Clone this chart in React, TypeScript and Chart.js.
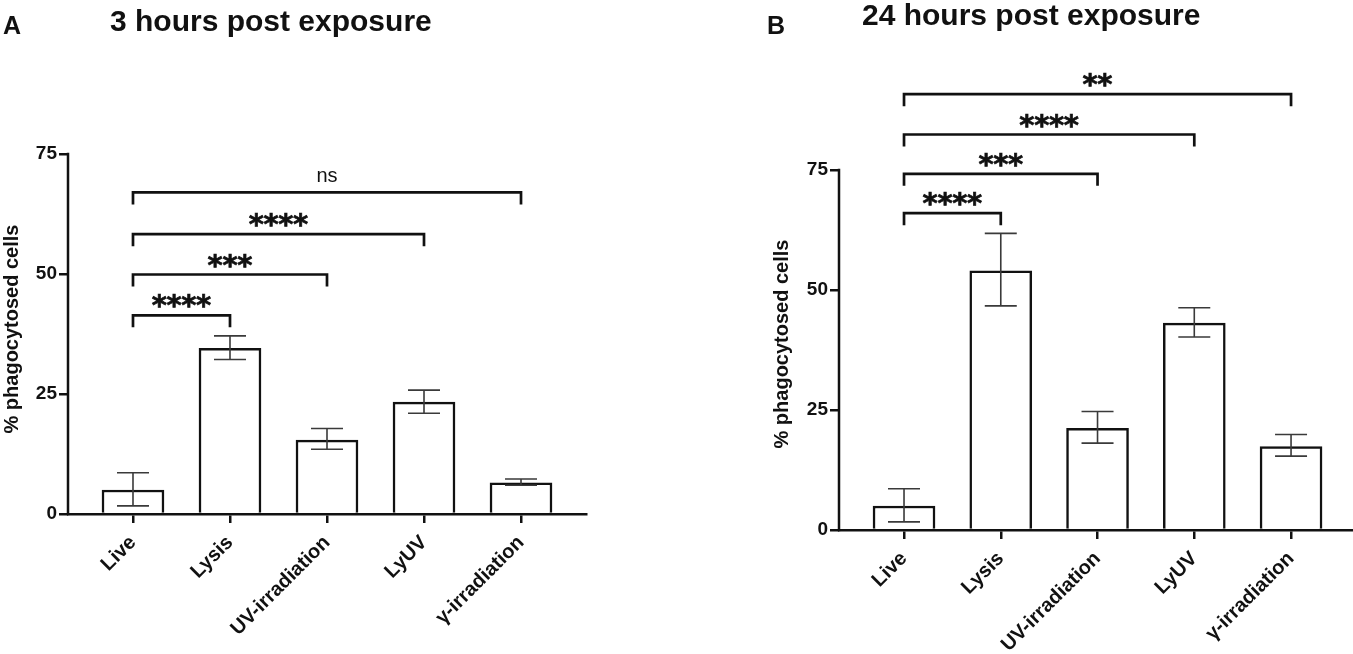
import React, { useEffect, useRef } from 'react';
import { Chart, registerables } from 'chart.js';

Chart.register(...registerables);

const categories = ['Live', 'Lysis', 'UV-irradiation', 'LyUV', 'γ-irradiation'];
const yTicks = [0, 25, 50, 75];

// 3 hours post exposure
const means3h = [5.0, 34.5, 15.4, 23.3, 6.5];
const upper3h = [8.6, 37.1, 17.8, 25.8, 7.3];
const lower3h = [1.7, 32.2, 13.5, 21.0, 6.0];

// 24 hours post exposure
const means24h = [5.0, 54.0, 21.2, 43.1, 17.4];
const upper24h = [8.6, 61.8, 24.7, 46.3, 19.9];
const lower24h = [1.7, 46.7, 18.1, 40.2, 15.4];

// significance brackets, all start at "Live"
const bracketEnds = [1, 2, 3, 4];
const bracketLevels3h = [41.4, 49.9, 58.3, 67.0];
const bracketLabels3h = ['****', '***', '****', 'ns'];
const bracketLevels24h = [66.0, 74.2, 82.4, 90.8];
const bracketLabels24h = ['****', '***', '****', '**'];

const INK = '#111';
const SANS = '"Liberation Sans", Arial, sans-serif';

interface PanelProps {
  letter: string;
  title: string;
  means: number[];
  upper: number[];
  lower: number[];
  levels: number[];
  labels: string[];
  yMax: number;
  xMin: number;
  xMax: number;
  left: number;
  width: number;
  axisW: number;
  padTop: number;
  padRight: number;
  xAxisH: number;
  letterPos: [number, number];
  titlePos: [number, number];
  yTitlePos: [number, number];
}

function centeredText(ctx: CanvasRenderingContext2D, text: string, cx: number, cy: number, stroke = 0) {
  const m = ctx.measureText(text);
  ctx.textAlign = 'center';
  ctx.textBaseline = 'alphabetic';
  const by = cy + (m.actualBoundingBoxAscent - m.actualBoundingBoxDescent) / 2;
  ctx.fillText(text, cx, by);
  if (stroke > 0) {
    ctx.lineWidth = stroke;
    ctx.strokeText(text, cx, by);
  }
}

const Panel: React.FC<PanelProps> = (p) => {
  const canvasRef = useRef<HTMLCanvasElement>(null);

  useEffect(() => {
    if (!canvasRef.current) return;

    const overlay = {
      id: 'overlay',
      afterDatasetsDraw(chart: any) {
        const { ctx, chartArea } = chart;
        const x = chart.scales.x;
        const y = chart.scales.y;
        ctx.save();

        // error bars
        ctx.strokeStyle = '#3a3a3a';
        ctx.lineWidth = 1.6;
        p.means.forEach((_, i) => {
          const px = x.getPixelForValue(i);
          const top = y.getPixelForValue(p.upper[i]);
          const bot = y.getPixelForValue(p.lower[i]);
          ctx.beginPath();
          ctx.moveTo(px, top);
          ctx.lineTo(px, bot);
          ctx.moveTo(px - 16, top);
          ctx.lineTo(px + 16, top);
          ctx.moveTo(px - 16, bot);
          ctx.lineTo(px + 16, bot);
          ctx.stroke();
        });

        // y axis line only up to the last tick
        ctx.strokeStyle = INK;
        ctx.lineWidth = 2.5;
        ctx.beginPath();
        ctx.moveTo(chartArea.left, y.getPixelForValue(0) + 1.25);
        ctx.lineTo(chartArea.left, y.getPixelForValue(yTicks[yTicks.length - 1]) - 1.25);
        ctx.stroke();

        // brackets
        const x0 = x.getPixelForValue(0);
        bracketEnds.forEach((end, k) => {
          const x1 = x.getPixelForValue(end);
          const ly = y.getPixelForValue(p.levels[k]);
          ctx.strokeStyle = INK;
          ctx.lineWidth = 2.7;
          ctx.lineJoin = 'miter';
          ctx.beginPath();
          ctx.moveTo(x0, ly + 12);
          ctx.lineTo(x0, ly);
          ctx.lineTo(x1, ly);
          ctx.lineTo(x1, ly + 12);
          ctx.stroke();

          const label = p.labels[k];
          const cx = (x0 + x1) / 2;
          ctx.fillStyle = INK;
          if (label === 'ns') {
            ctx.font = `20px ${SANS}`;
            centeredText(ctx, label, cx, ly - 15.5);
          } else {
            ctx.font = 'bold 29px "DejaVu Sans", sans-serif';
            const n = label.length;
            for (let j = 0; j < n; j++) {
              centeredText(ctx, '*', cx + (j - (n - 1) / 2) * 14.8, ly - 13.8, 0.7);
            }
          }
        });

        // panel letter, title, y title
        ctx.fillStyle = INK;
        ctx.textAlign = 'left';
        ctx.textBaseline = 'alphabetic';
        ctx.font = `bold 25px ${SANS}`;
        ctx.fillText(p.letter, p.letterPos[0], p.letterPos[1]);
        ctx.font = `bold 30px ${SANS}`;
        ctx.fillText(p.title, p.titlePos[0], p.titlePos[1]);

        ctx.translate(p.yTitlePos[0], p.yTitlePos[1]);
        ctx.rotate(-Math.PI / 2);
        ctx.font = `bold 20px ${SANS}`;
        centeredText(ctx, '% phagocytosed cells', 0, 0);

        ctx.restore();
      },
    };

    const chart = new Chart(canvasRef.current, {
      type: 'bar',
      data: {
        datasets: [
          {
            data: p.means.map((v, i) => ({ x: i, y: v })),
            backgroundColor: '#ffffff',
            borderColor: INK,
            borderWidth: 2.5,
            borderSkipped: 'bottom',
            barThickness: 62,
          },
        ],
      },
      options: {
        animation: false,
        responsive: true,
        maintainAspectRatio: false,
        layout: {
          padding: { top: p.padTop, right: p.padRight, bottom: 0, left: 0 },
        },
        plugins: {
          legend: { display: false },
          tooltip: { enabled: false },
        },
        scales: {
          x: {
            type: 'linear',
            min: p.xMin,
            max: p.xMax,
            offset: false,
            afterBuildTicks: (scale: any) => {
              scale.ticks = categories.map((_, i) => ({ value: i }));
            },
            afterFit: (scale: any) => {
              scale.height = p.xAxisH;
            },
            grid: {
              offset: false,
              drawOnChartArea: false,
              drawTicks: true,
              tickLength: 9,
              color: INK,
              lineWidth: 2.5,
            },
            border: { display: true, color: INK, width: 2.5 },
            ticks: {
              autoSkip: false,
              minRotation: 45,
              maxRotation: 45,
              padding: 8,
              color: INK,
              font: { family: SANS, size: 20, weight: 'bold' },
              callback: (value: any) => categories[Number(value)] ?? '',
            },
          },
          y: {
            type: 'linear',
            min: 0,
            max: p.yMax,
            afterBuildTicks: (scale: any) => {
              scale.ticks = yTicks.map((v) => ({ value: v }));
            },
            afterFit: (scale: any) => {
              scale.width = p.axisW;
            },
            grid: {
              drawOnChartArea: false,
              drawTicks: true,
              tickLength: 9,
              color: INK,
              lineWidth: 2.5,
            },
            border: { display: false },
            ticks: {
              padding: 2,
              color: INK,
              font: { family: SANS, size: 19, weight: 'bold' },
            },
          },
        },
      } as any,
      plugins: [overlay],
    });

    return () => {
      chart.destroy();
    };
  }, [p]);

  return (
    <div style={{ position: 'absolute', left: p.left, top: 0, width: p.width, height: 654 }}>
      <canvas ref={canvasRef}></canvas>
    </div>
  );
};

const panelA: PanelProps = {
  letter: 'A',
  title: '3 hours post exposure',
  means: means3h,
  upper: upper3h,
  lower: lower3h,
  levels: bracketLevels3h,
  labels: bracketLabels3h,
  yMax: 75,
  xMin: -0.67,
  xMax: 4.67,
  left: 0,
  width: 676,
  axisW: 68,
  padTop: 154,
  padRight: 90,
  xAxisH: 140,
  letterPos: [3, 34],
  titlePos: [110, 31],
  yTitlePos: [12, 329],
};

const panelB: PanelProps = {
  letter: 'B',
  title: '24 hours post exposure',
  means: means24h,
  upper: upper24h,
  lower: lower24h,
  levels: bracketLevels24h,
  labels: bracketLabels24h,
  yMax: 95,
  xMin: -0.672,
  xMax: 4.63,
  left: 676,
  width: 677,
  axisW: 163,
  padTop: 74,
  padRight: 1,
  xAxisH: 124,
  letterPos: [91, 34],
  titlePos: [186, 25],
  yTitlePos: [106, 344],
};

export default function App() {
  return (
    <div
      style={{
        position: 'absolute',
        left: 0,
        top: 0,
        width: 1353,
        height: 654,
        background: '#ffffff',
        overflow: 'hidden',
      }}
    >
      <Panel {...panelA} />
      <Panel {...panelB} />
    </div>
  );
}
